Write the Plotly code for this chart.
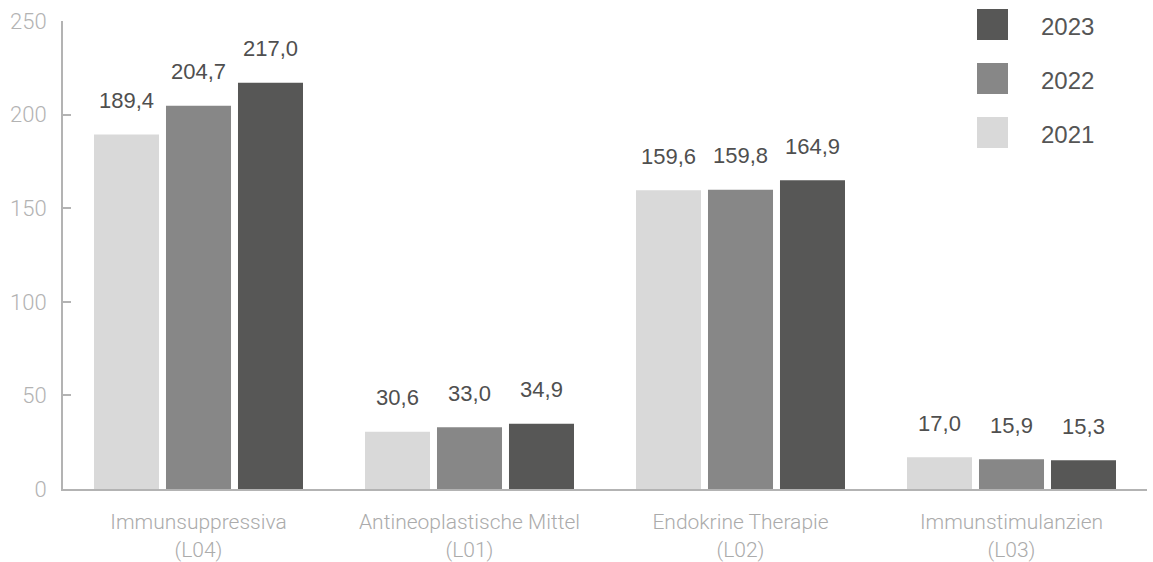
import plotly.graph_objects as go

categories = ["Immunsuppressiva<br>(L04)", "Antineoplastische Mittel<br>(L01)",
              "Endokrine Therapie<br>(L02)", "Immunstimulanzien<br>(L03)"]
years = ["2021", "2022", "2023"]
values_2021 = [189.4, 30.6, 159.6, 17.0]
values_2022 = [204.7, 33.0, 159.8, 15.9]
values_2023 = [217.0, 34.9, 164.9, 15.3]
series = [values_2021, values_2022, values_2023]
colors = ["#d9d9d9", "#878787", "#575756"]
y_ticks = [0, 50, 100, 150, 200, 250]

def fmt(v):
    return f"{v:.1f}".replace(".", ",")

fig = go.Figure()
for i, (yr, vals, col) in enumerate(zip(years, series, colors)):
    fig.add_trace(go.Bar(
        x=categories, y=vals, name=yr, marker=dict(color=col, line=dict(width=0)),
        offsetgroup=str(i), hoverinfo="skip", showlegend=False,
    ))
for i, (yr, vals) in enumerate(zip(years, series)):
    fig.add_trace(go.Scatter(
        x=categories, y=vals, mode="markers+text", offsetgroup=str(i),
        text=[fmt(v) for v in vals], textposition="top center",
        marker=dict(size=32, opacity=0), textfont=dict(family="Liberation Sans", size=22, color="#4f4f4f"),
        hoverinfo="skip", showlegend=False, cliponaxis=False,
    ))

# legend built from shapes + annotations (large swatches)
L, R, T, B = 63, 6, 21, 73
W, H = 1153, 562
pw, ph = W - L - R, H - T - B
for i, (yr, col) in enumerate(zip(reversed(years), reversed(colors))):
    cy = 24.5 + 54 * i
    fig.add_shape(type="rect", xref="paper", yref="paper", xsizemode="pixel", ysizemode="pixel",
                  xanchor=(977 - L) / pw, yanchor=(H - B - cy) / ph,
                  x0=0, x1=31, y0=-15.5, y1=15.5, fillcolor=col, line=dict(width=0))
    fig.add_annotation(xref="paper", yref="paper", x=(1039 - L) / pw, y=(H - B - cy - 2) / ph,
                       xanchor="left", yanchor="middle", text=yr, showarrow=False,
                       font=dict(family="Liberation Sans", size=24, color="#555555"))

fig.update_layout(
    width=W, height=H, margin=dict(l=L, r=R, t=T, b=B, autoexpand=False),
    plot_bgcolor="white", paper_bgcolor="white",
    barmode="group", scattermode="group", bargap=0.203, bargroupgap=0.097,
    showlegend=False,
    xaxis=dict(showline=True, linecolor="#b3b3b3", linewidth=2, ticks="", showgrid=False,
               tickfont=dict(family="Roboto", weight=300, size=21, color="#ababab"),
               ticklabelstandoff=13, fixedrange=True, automargin=False),
    yaxis=dict(range=[0, 250], tickvals=y_ticks, showline=True, linecolor="#b3b3b3", linewidth=2,
               ticks="inside", ticklen=8, tickwidth=2, tickcolor="#b3b3b3", showgrid=False,
               zeroline=False, tickfont=dict(family="Roboto", weight=300, size=22, color="#b3b3b3"),
               ticklabelstandoff=10, fixedrange=True, automargin=False),
)
fig.write_html("out.html")
